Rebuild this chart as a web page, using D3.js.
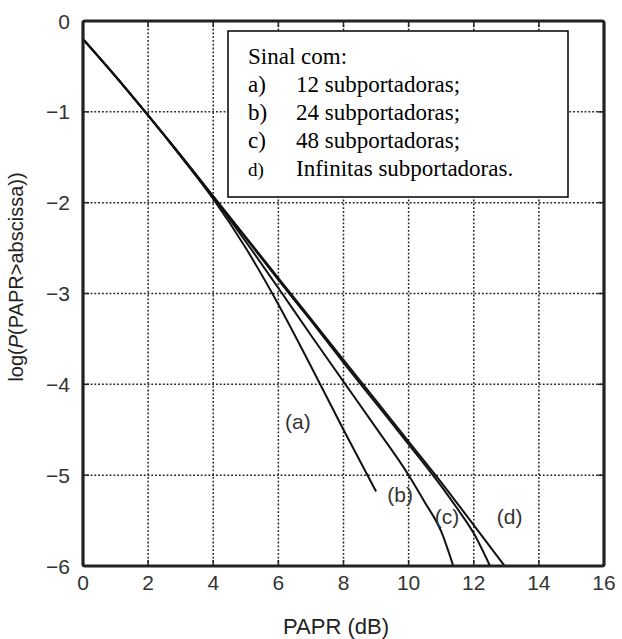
<!DOCTYPE html>
<html><head><meta charset="utf-8">
<script src="https://cdn.jsdelivr.net/npm/d3@7"></script>
<style>body{margin:0;background:#fff}</style>
</head><body>
<script>
const xTicks = [0,2,4,6,8,10,12,14,16];
const yTicks = [0,-1,-2,-3,-4,-5,-6];
const xLabelText = "PAPR (dB)";
const legendTitle = "Sinal com:";
const legendKeys = ["a)","b)","c)","d)"];
const legendItems = ["12 subportadoras;","24 subportadoras;","48 subportadoras;","Infinitas subportadoras."];
const curveNames = ["(a)","(b)","(c)","(d)"];
const curveA = [[0,-0.2],[1,-0.61],[2,-1.04],[3,-1.49],[4,-1.96],[5,-2.5],[6,-3.12],[7,-3.8],[8,-4.5],[9,-5.18]];
const curveB = [[0,-0.2],[1,-0.61],[2,-1.04],[3,-1.48],[4,-1.94],[5,-2.43],[6,-2.94],[7,-3.46],[8,-3.97],[9,-4.48],[10,-5.0],[10.5,-5.3],[11,-5.62],[11.37,-6]];
const curveC = [[0,-0.2],[1,-0.61],[2,-1.04],[3,-1.48],[4,-1.93],[5,-2.39],[6,-2.85],[7,-3.3],[8,-3.76],[9,-4.21],[10,-4.66],[11,-5.12],[11.5,-5.37],[12,-5.64],[12.5,-6]];
const curveD = [[0,-0.2],[1,-0.61],[2,-1.04],[3,-1.48],[4,-1.93],[5,-2.38],[6,-2.83],[7,-3.28],[8,-3.73],[9,-4.18],[10,-4.63],[11,-5.08],[12,-5.55],[12.95,-6]];
const labelPos = [[6.6,-4.42],[9.74,-5.22],[11.18,-5.46],[13.1,-5.46]];

const W=622,H=639;
const m={l:83,t:21,r:18,b:73};
const svg=d3.select("body").append("svg").attr("width",W).attr("height",H);
const x=d3.scaleLinear().domain([0,16]).range([m.l,W-m.r]);
const y=d3.scaleLinear().domain([-6,0]).range([H-m.b,m.t]);
const x0=x(0),x1=x(16),y0=y(-6),y1=y(0);

// grid
const g=svg.append("g");
xTicks.slice(1,-1).forEach(v=>g.append("line").attr("x1",x(v)).attr("x2",x(v)).attr("y1",y1).attr("y2",y0)
 .attr("stroke","#222").attr("stroke-width",1.5).attr("stroke-dasharray","1.8,2"));
yTicks.slice(1,-1).forEach(v=>g.append("line").attr("y1",y(v)).attr("y2",y(v)).attr("x1",x0).attr("x2",x1)
 .attr("stroke","#222").attr("stroke-width",1.5).attr("stroke-dasharray","1.8,2"));

// inward ticks on all sides
const tk=svg.append("g").attr("stroke","#222").attr("stroke-width",1.5);
xTicks.forEach(v=>{tk.append("line").attr("x1",x(v)).attr("x2",x(v)).attr("y1",y0).attr("y2",y0-6);
 tk.append("line").attr("x1",x(v)).attr("x2",x(v)).attr("y1",y1).attr("y2",y1+6);});
yTicks.forEach(v=>{tk.append("line").attr("y1",y(v)).attr("y2",y(v)).attr("x1",x0).attr("x2",x0+6);
 tk.append("line").attr("y1",y(v)).attr("y2",y(v)).attr("x1",x1).attr("x2",x1-6);});

// curves
const line=d3.line().x(d=>x(d[0])).y(d=>y(d[1])).curve(d3.curveMonotoneX);
[curveA,curveB,curveC,curveD].forEach(c=>svg.append("path").attr("d",line(c)).attr("fill","none")
 .attr("stroke","#111").attr("stroke-width",2));

// frame
svg.append("rect").attr("x",x0).attr("y",y1).attr("width",x1-x0).attr("height",y0-y1)
 .attr("fill","none").attr("stroke","#222").attr("stroke-width",3.2).attr("rx",2);

// tick labels
const tf="'Liberation Sans', Arial, sans-serif";
xTicks.forEach(v=>svg.append("text").attr("x",x(v)).attr("y",y0+24).attr("text-anchor","middle")
 .attr("font-family",tf).attr("font-size",21).attr("fill","#333").text(v));
yTicks.forEach(v=>svg.append("text").attr("x",x0-13).attr("y",y(v)+7.5).attr("text-anchor","end")
 .attr("font-family",tf).attr("font-size",21).attr("fill","#333").text(v===0?"0":"\u2212"+Math.abs(v)));

// axis titles
svg.append("text").attr("x",336).attr("y",634).attr("text-anchor","middle").attr("font-family",tf)
 .attr("font-size",22).attr("fill","#222").text(xLabelText);
const yl=svg.append("text").attr("transform","translate(23,277) rotate(-90)").attr("text-anchor","middle")
 .attr("font-family",tf).attr("font-size",20).attr("fill","#222");
yl.append("tspan").text("log(");
yl.append("tspan").attr("font-style","italic").text("P");
yl.append("tspan").text("(PAPR>abscissa))");

// curve labels
curveNames.forEach((n,i)=>svg.append("text").attr("x",x(labelPos[i][0])).attr("y",y(labelPos[i][1])+7)
 .attr("text-anchor","middle").attr("font-family",tf).attr("font-size",21).attr("fill","#333").text(n));

// legend
const lg=svg.append("g");
lg.append("rect").attr("x",228).attr("y",31).attr("width",340).attr("height",166).attr("fill","#fff")
 .attr("stroke","#000").attr("stroke-width",1.5);
const sf="'Liberation Serif','Times New Roman',serif";
lg.append("text").attr("x",248).attr("y",64).attr("font-family",sf).attr("font-size",23).attr("fill","#000").text(legendTitle);
legendKeys.forEach((k,i)=>{
 lg.append("text").attr("x",248).attr("y",92+i*28).attr("font-family",sf).attr("font-size",i===3?19:23).attr("fill","#000").text(k);
 lg.append("text").attr("x",296).attr("y",92+i*28).attr("font-family",sf).attr("font-size",23).attr("fill","#000").text(legendItems[i]);
});
</script>
</body></html>
